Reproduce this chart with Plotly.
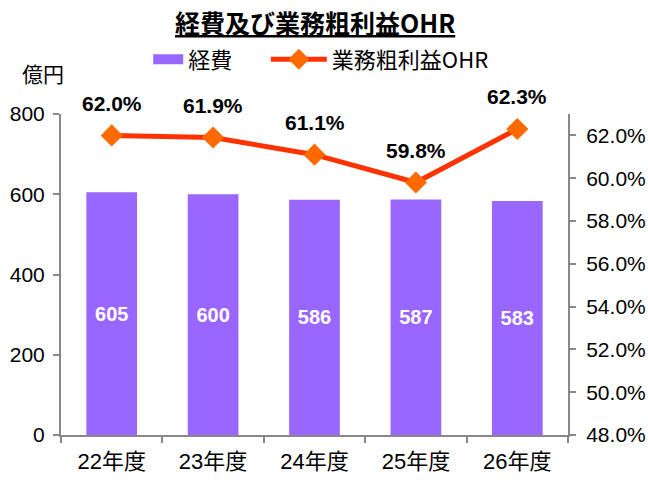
import plotly.graph_objects as go

categories = ["22年度", "23年度", "24年度", "25年度", "26年度"]
expenses = [605, 600, 586, 587, 583]
ohr = [62.0, 61.9, 61.1, 59.8, 62.3]
left_ticks = [0, 200, 400, 600, 800]
right_ticks = [48, 50, 52, 54, 56, 58, 60, 62]

FONT = "Liberation Sans, Arial, Noto Sans CJK JP, sans-serif"
JP = "Noto Sans CJK JP, sans-serif"
BAR_COLOR = "#9966FF"

fig = go.Figure()
fig.add_trace(go.Bar(
    x=categories, y=expenses, name="経費",
    marker=dict(color=BAR_COLOR, line=dict(width=0)),
    width=0.5, showlegend=False,
    text=[str(v) for v in expenses],
    textposition="inside", insidetextanchor="middle",
    textfont=dict(color="white", size=20, family=FONT, weight="bold"),
    yaxis="y",
))
# legend stand-in for the bar series (wide box swatch)
fig.add_trace(go.Scatter(
    x=[None], y=[None], name="経費", mode="lines",
    line=dict(color=BAR_COLOR, width=16), legend="legend", yaxis="y",
))
fig.add_trace(go.Scatter(
    x=categories, y=ohr, name="業務粗利益OHR",
    mode="lines+markers",
    line=dict(color="#FF3300", width=5),
    marker=dict(symbol="diamond", size=17, color="#FF6A00"),
    yaxis="y2", legend="legend2",
))
for c, v in zip(categories, ohr):
    fig.add_annotation(x=c, y=v, xref="x", yref="y2", text=f"<b>{v:.1f}%</b>",
                       showarrow=False, yshift=32,
                       font=dict(size=21, color="black", family=FONT))

fig.add_annotation(x=0.5, y=1.0, xref="paper", yref="paper", xanchor="center", yanchor="middle",
                   yshift=92, showarrow=False,
                   text="<b><u>経費及び業務粗利益OHR</u></b>",
                   font=dict(size=25, color="black", family=JP))
fig.add_annotation(x=0, y=1.0, xref="paper", yref="paper", xanchor="center", yanchor="middle",
                   xshift=-18, yshift=41, showarrow=False, text="億円",
                   font=dict(size=21, color="black", family=JP))

axis_common = dict(showgrid=False, zeroline=False, showline=True, linecolor="#888888", linewidth=2,
                   ticks="outside", tickcolor="#888888", ticklen=6, tickwidth=1.5,
                   tickfont=dict(size=21, color="black", family=FONT))

legend_common = dict(orientation="h", xanchor="left", yanchor="middle", y=1.17,
                     font=dict(size=22, color="black", family=JP), bgcolor="rgba(0,0,0,0)",
                     tracegroupgap=0)

fig.update_layout(
    width=648, height=482,
    margin=dict(l=61, r=80, t=114, b=47, autoexpand=False),
    paper_bgcolor="white", plot_bgcolor="white",
    showlegend=True,
    legend=dict(**legend_common, x=0.172, itemwidth=30),
    legend2=dict(**legend_common, x=0.404, itemwidth=56),
    xaxis=dict(**{**axis_common, "tickfont": dict(size=22, color="black", family=FONT)},
               tickson="boundaries", ticklabelstandoff=6),
    yaxis=dict(**axis_common, range=[0, 800], tickvals=left_ticks, ticklabelstandoff=4),
    yaxis2=dict(**axis_common, range=[48, 63], overlaying="y", side="right",
                tickvals=right_ticks, ticktext=[f"{t:.1f}%" for t in right_ticks],
                ticklabelstandoff=6),
    bargap=0.5,
)

fig.write_html("out.html",
               config={"displayModeBar": False},
               post_script="document.body.style.margin='0';document.body.style.overflow='hidden';")
